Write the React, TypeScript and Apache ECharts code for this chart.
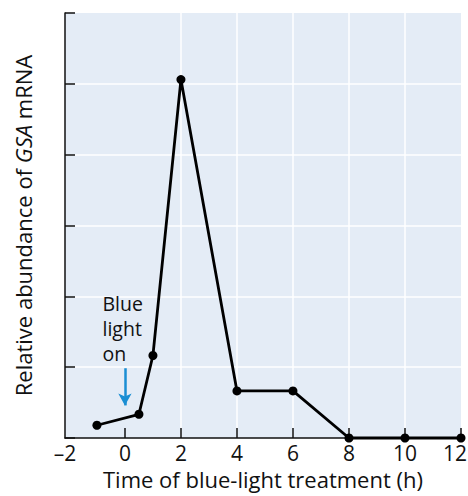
import React, { useEffect, useRef } from "react";
import * as echarts from "echarts";

const timeH = [-1, 0.5, 1, 2, 4, 6, 8, 10, 12];
const abundance = [0.18, 0.335, 1.165, 5.06, 0.665, 0.665, 0, 0, 0];
const xTickValues = [0, 2, 4, 6, 8, 10, 12];
const xMin = -2.14;
const xMax = 12;
const xLabelValues = [xMin, 0, 2, 4, 6, 8, 10, 12];
const yMin = 0;
const yMax = 6;
const arrowFromTo = [[0, 0.985], [0, 0.46]];
const noteText = "Blue\nlight\non";
const notePos = [-0.8, 2.08];

const FONT = "'Open Sans', 'Noto Sans', sans-serif";

export default function App() {
  const ref = useRef<HTMLDivElement>(null);
  useEffect(() => {
    document.body.style.margin = "0";
    if (!ref.current) return;
    const chart = echarts.init(ref.current, undefined, { renderer: "svg" });
    chart.setOption({
      animation: false,
      textStyle: { fontFamily: FONT },
      grid: {
        left: 65,
        right: 7,
        top: 13,
        bottom: 58,
        show: true,
        backgroundColor: "#e4ecf6",
        borderWidth: 0,
        containLabel: false,
        outerBoundsMode: "none",
      },
      xAxis: {
        type: "value",
        min: xMin,
        max: xMax,
        name: "Time of blue-light treatment (h)",
        nameLocation: "middle",
        nameGap: 29,
        nameTextStyle: { fontSize: 22, color: "#111", fontFamily: FONT },
        axisLine: { show: true, onZero: false, lineStyle: { color: "#111", width: 1.5 } },
        axisTick: {
          show: true,
          inside: true,
          length: 10,
          customValues: xTickValues,
          lineStyle: { color: "#111", width: 1.5 },
        },
        axisLabel: {
          customValues: xLabelValues,
          fontSize: 21,
          color: "#111",
          margin: 4,
          fontFamily: FONT,
          hideOverlap: false,
          formatter: (v: number) => {
            if (v < 0) return "\u2013" + Math.round(-v);
            if (v >= xMax) return String(Math.round(v)) + "{s| }";
            return String(Math.round(v));
          },
          rich: { s: { width: 12, fontSize: 21 } },
        },
        splitLine: {
          show: true,
          showMinLine: false,
          showMaxLine: false,
          lineStyle: { color: "#ffffff", width: 1.5 },
        },
      },
      yAxis: {
        type: "value",
        min: yMin,
        max: yMax,
        interval: 1,
        name: "Relative abundance of {i|GSA} mRNA",
        nameLocation: "middle",
        nameGap: 31,
        nameTextStyle: {
          fontSize: 22,
          color: "#111",
          fontFamily: FONT,
          rich: { i: { fontStyle: "italic", fontSize: 22, color: "#111", fontFamily: FONT } },
        },
        axisLine: { show: true, onZero: false, lineStyle: { color: "#111", width: 1.5 } },
        axisTick: { show: true, inside: true, length: 10, lineStyle: { color: "#111", width: 1.5 } },
        axisLabel: { show: false },
        splitLine: {
          show: true,
          showMinLine: false,
          showMaxLine: false,
          lineStyle: { color: "#ffffff", width: 1.5 },
        },
      },
      series: [
        {
          type: "line",
          data: timeH.map((t, i) => [t, abundance[i]]),
          symbol: "circle",
          symbolSize: 9,
          lineStyle: { color: "#000", width: 2.8 },
          itemStyle: { color: "#000" },
          clip: false,
          markLine: {
            silent: true,
            symbol: ["none", "arrow"],
            symbolSize: [10, 12],
            label: { show: false },
            lineStyle: { color: "#1a8ed3", width: 2.5, type: "solid" },
            data: [[{ coord: arrowFromTo[0] }, { coord: arrowFromTo[1] }]],
          },
          markPoint: {
            silent: true,
            symbol: "circle",
            symbolSize: 0,
            data: [
              {
                coord: notePos,
                label: {
                  show: true,
                  formatter: noteText,
                  position: [0, 0],
                  align: "left",
                  verticalAlign: "top",
                  fontSize: 19.5,
                  lineHeight: 25,
                  color: "#111",
                  fontFamily: FONT,
                },
              },
            ],
          },
        },
      ],
    });
    return () => chart.dispose();
  }, []);
  return <div ref={ref} style={{ width: 468, height: 496 }} />;
}
